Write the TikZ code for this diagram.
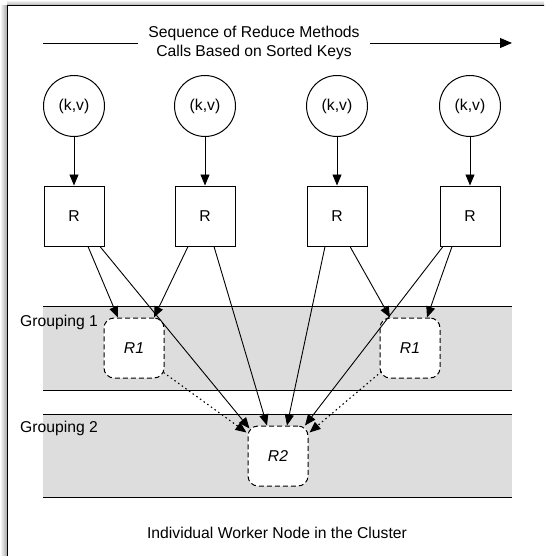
\documentclass[tikz,border=0pt]{standalone}
\usepackage{fontspec}
\setmainfont{Liberation Sans}
\usetikzlibrary{arrows.meta,calc}
\definecolor{bandgray}{HTML}{DDDDDD}
\begin{document}
\begin{tikzpicture}[x=1pt,y=-1pt,
  every node/.style={font=\fontsize{15.7}{19}\selectfont},
  kv/.style={circle,draw,line width=1pt,minimum size=61pt,inner sep=0pt},
  rbox/.style={rectangle,draw,line width=1pt,minimum width=60pt,minimum height=60pt,inner sep=0pt},
  grpbox/.style={rectangle,draw,line width=1pt,dash pattern=on 5pt off 3pt,rounded corners=10pt,
     fill=white,minimum width=60pt,minimum height=60pt,inner sep=0pt,
     font=\fontsize{15.7}{19}\selectfont\itshape},
  arr/.style={-{Triangle[length=11pt,width=9pt]},line width=0.9pt},
  dotarr/.style={arr,line width=1.1pt,dash pattern=on 1.5pt off 3pt},
  lbl/.style={inner sep=0pt,anchor=west}]
\useasboundingbox (0,0) rectangle (544,556);
\clip (0,0) rectangle (544,556);
% frame with shadow
\fill[white] (0,0) rectangle (544,556);
\shade[left color=white,right color=gray!70] (0,6) rectangle (7,556);
\shade[top color=white,bottom color=gray!70] (7,0) rectangle (544,6);
\draw[line width=1pt] (7,570) -- (7,6) -- (560,6);
% bands
\fill[bandgray] (43,306) rectangle (512,390);
\fill[bandgray] (43,414) rectangle (512,497);
\draw[line width=0.9pt] (43,306) -- (512,306) (43,390) -- (512,390)
                        (43,414) -- (512,414) (43,497) -- (512,497);
\node[lbl] (g1) at (20,322) {Grouping 1};
\node[lbl] (g2) at (20,428) {Grouping 2};
% title arrow
\node[align=center,inner xsep=10pt,inner ysep=0pt] (title) at (254,42.5)
  {Sequence of Reduce Methods\\Calls Based on Sorted Keys};
\coordinate (a0) at (43,43);
\coordinate (a1) at (512,43);
\draw[line width=0.9pt] (a0) -- (a0 -| title.west);
\draw[-{Triangle[length=12pt,width=10pt]},line width=0.9pt] (a1 -| title.east) -- (a1);
% circles and boxes
\foreach \i/\x in {1/74,2/205,3/337,4/470}{
  \node[kv] (c\i) at (\x,106) {(k,v)};
  \node[rbox] (b\i) at (\x,216) {R};
  \draw[arr] (c\i) -- (b\i);
}
% reducer groups
\node[grpbox] (r1a) at (134,348) {R1};
\node[grpbox] (r1b) at (410,348) {R1};
\node[grpbox] (r2) at (278,456) {R2};
% connectors
\draw[arr] ($(b1.south)+(14,0)$) -- ($(r1a.north)+(-16,0)$);
\draw[arr] ($(b1.south)+(26,0)$) -- ($(r2.north west)+(2,3)$);
\draw[arr] ($(b2.south)+(-17,0)$) -- ($(r1a.north)+(20,0)$);
\draw[arr] ($(b2.south)+(9,0)$) -- ($(r2.north)+(-11,0)$);
\draw[arr] ($(b3.south)+(-12,0)$) -- ($(r2.north)+(9,0)$);
\draw[arr] ($(b3.south)+(13,0)$) -- ($(r1b.north)+(-20,0)$);
\draw[arr] ($(b4.south)+(-18,0)$) -- ($(r1b.north)+(17,0)$);
\draw[arr] ($(b4.south)+(-27,0)$) -- ($(r2.north)+(27,0)$);
\draw[dotarr] ($(r1a.south east)+(-1,-6)$) -- ($(r2.north west)+(-1,7)$);
\draw[dotarr] ($(r1b.south west)+(2,-7)$) -- ($(r2.north east)+(1,7)$);
% caption
\node (cap) at (277,533) {Individual Worker Node in the Cluster};
\end{tikzpicture}
\end{document}
